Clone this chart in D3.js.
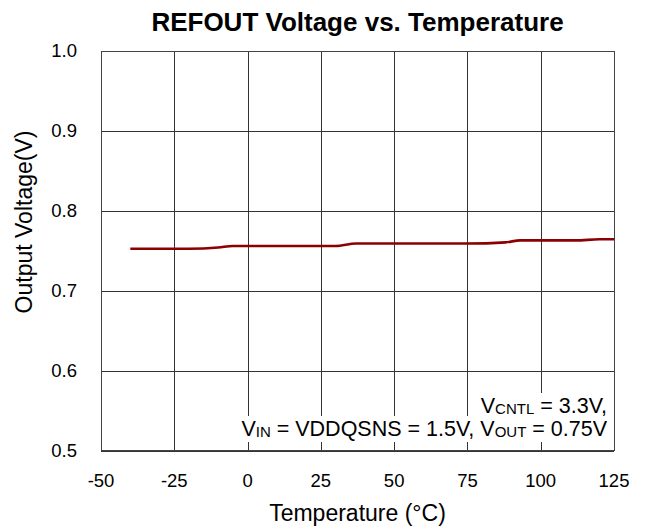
<!DOCTYPE html>
<html>
  <head>
    <meta charset="utf-8" />
    <title>REFOUT Voltage vs. Temperature</title>
    <style>
      body {
        margin: 0;
        background: #fff;
        font-family: "Liberation Sans", Arial, sans-serif;
      }
      .grid line {
        stroke: #333;
        stroke-width: 1px;
        shape-rendering: crispEdges;
      }
      .tick-label {
        font-size: 18.5px;
        fill: #000;
      }
      .line {
        fill: none;
        stroke: #8b0000;
        stroke-width: 2.6px;
      }
    </style>
    <script src="https://d3js.org/d3.v7.min.js"></script>
  </head>
  <body>
    <div id="chart"></div>
    <script>
      // values
      const temps = [-40, -20, -10, -5, 30, 37, 75, 88, 93, 112, 120, 125];
      const volts = [0.7525, 0.7525, 0.754, 0.756, 0.756, 0.759, 0.759, 0.7605, 0.763, 0.763, 0.7643, 0.7643];
      const xTicks = [-50, -25, 0, 25, 50, 75, 100, 125];
      const yTicks = [0.5, 0.6, 0.7, 0.8, 0.9, 1.0];

      const W = 649, H = 532;
      const margin = { top: 51, right: 35, bottom: 81.5, left: 101 };
      const width = W - margin.left - margin.right;
      const height = H - margin.top - margin.bottom;

      const svg = d3.select("#chart").append("svg")
        .attr("width", W)
        .attr("height", H);

      const g = svg.append("g")
        .attr("transform", `translate(${margin.left},${margin.top})`);

      const x = d3.scaleLinear().domain([-50, 125]).range([0, width]);
      const y = d3.scaleLinear().domain([0.5, 1.0]).range([height, 0]);

      // vertical grid
      g.append("g")
        .attr("class", "grid")
        .attr("transform", `translate(0,${height})`)
        .call(d3.axisBottom(x).tickValues(xTicks).tickSize(-height).tickFormat(""))
        .call(s => s.select(".domain").remove());

      // horizontal grid
      g.append("g")
        .attr("class", "grid")
        .call(d3.axisLeft(y).tickValues(yTicks).tickSize(-width).tickFormat(""))
        .call(s => s.select(".domain").remove());

      // frame
      g.append("rect")
        .attr("x", 0).attr("y", 0)
        .attr("width", width).attr("height", height)
        .attr("fill", "none")
        .attr("stroke", "#444")
        .attr("stroke-width", 1)
        .attr("shape-rendering", "crispEdges");

      // tick labels
      g.selectAll(".xl").data(xTicks).enter().append("text")
        .attr("class", "tick-label")
        .attr("x", d => x(d))
        .attr("y", height + 36)
        .attr("text-anchor", "middle")
        .text(d => d);

      g.selectAll(".yl").data(yTicks).enter().append("text")
        .attr("class", "tick-label")
        .attr("x", -24)
        .attr("y", d => y(d))
        .attr("dy", "0.35em")
        .attr("text-anchor", "end")
        .text(d => d.toFixed(1));

      // annotation with white backing per line
      const note = g.append("g");
      const lines = [
        [["V", 0], ["CNTL", 1], [" = 3.3V,", 0]],
        [["V", 0], ["IN", 1], [" = VDDQSNS = 1.5V, V", 0], ["OUT", 1], [" = 0.75V", 0]]
      ];
      const baselines = [413, 436];
      lines.forEach((parts, i) => {
        const bg = note.append("rect").attr("fill", "#fff");
        const t = note.append("text")
          .attr("x", 506)
          .attr("y", baselines[i] - margin.top)
          .attr("text-anchor", "end")
          .style("font-size", "21.5px");
        let low = false;
        parts.forEach(p => {
          const dy = p[1] && !low ? 1 : (!p[1] && low ? -1 : 0);
          low = !!p[1];
          t.append("tspan")
            .style("font-size", p[1] ? "15px" : "21.5px")
            .attr("dy", dy)
            .text(p[0]);
        });
        const b = t.node().getBBox();
        bg.attr("x", b.x - 1).attr("y", b.y - 1)
          .attr("width", b.width + 2).attr("height", b.height + 2);
      });

      // data line
      const data = temps.map((t, i) => ({ t, v: volts[i] }));
      g.append("path")
        .datum(data)
        .attr("class", "line")
        .attr("d", d3.line().x(d => x(d.t)).y(d => y(d.v)).curve(d3.curveMonotoneX));

      // titles
      svg.append("text")
        .attr("x", margin.left + width / 2)
        .attr("y", 31)
        .attr("text-anchor", "middle")
        .style("font-size", "26px")
        .style("font-weight", "bold")
        .text("REFOUT Voltage vs. Temperature");

      svg.append("text")
        .attr("x", margin.left + width / 2)
        .attr("y", 521)
        .attr("text-anchor", "middle")
        .style("font-size", "23px")
        .text("Temperature (°C)");

      svg.append("text")
        .attr("transform", "rotate(-90)")
        .attr("x", -222)
        .attr("y", 32)
        .attr("text-anchor", "middle")
        .style("font-size", "23px")
        .text("Output Voltage(V)");
    </script>
  </body>
</html>
